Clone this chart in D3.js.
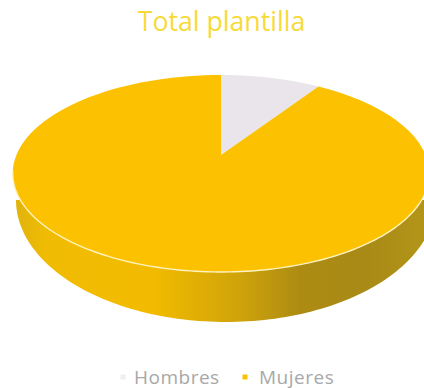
<!DOCTYPE html>
<html>
<head>
<meta charset="utf-8">
<script src="https://cdn.jsdelivr.net/npm/d3@7"></script>
<style>
  html, body { margin: 0; padding: 0; background: #fff; }
  svg { display: block; }
  text { font-family: "Open Sans", sans-serif; }
</style>
</head>
<body>
<div id="chart"></div>
<script>
// Workforce split shown as a tilted 3D pie
const title = "Total plantilla";
const categories = ["Hombres", "Mujeres"];
const values = [9.3, 90.7];
const colors = ["#e9e5ea", "#fcc100"];

const width = 424, height = 388;
const svg = d3.select("#chart").append("svg")
  .attr("width", width).attr("height", height);

// Perspective projection of the unit disc onto the page
const cx = 221, cy = 155;
const spanX = 204.6, spanY = 95, tilt = 0.188;
const project = angle => {
  const u = Math.sin(angle), v = Math.cos(angle);
  const w = 1 + tilt * v;
  return [cx + spanX * u / w, cy - spanY * v / w];
};

const defs = svg.append("defs");
const sideGrad = defs.append("linearGradient")
  .attr("id", "side-shade")
  .attr("gradientUnits", "userSpaceOnUse")
  .attr("x1", 14).attr("x2", 424).attr("y1", 0).attr("y2", 0);
[[0, "#e0b30c"], [0.08, "#f0bc03"], [0.34, "#f2bb00"], [0.55, "#cfa30a"],
 [0.70, "#ad8b13"], [0.86, "#a88a16"], [1, "#b29518"]]
  .forEach(([o, c]) => sideGrad.append("stop").attr("offset", o).attr("stop-color", c));

const line = d3.line();
const sweep = (a0, a1) =>
  d3.range(0, 121).map(i => project(a0 + (a1 - a0) * i / 120));

// Rim of the disc: lower half of the base ellipse, hidden above by the top face
const baseCx = 226, baseCy = 200, baseRx = 210, baseRy = 122;
const rim = d3.range(0, 121).map(i => {
  const a = Math.PI * i / 120;
  return [baseCx + baseRx * Math.cos(a), baseCy + baseRy * Math.sin(a)];
});
svg.append("path")
  .attr("d", line(rim) + "Z")
  .attr("fill", "url(#side-shade)");

// Top face slices
const pie = d3.pie().sort(null)(values);
svg.append("g").selectAll("path")
  .data(pie)
  .join("path")
  .attr("d", d => line([[cx, cy], ...sweep(d.startAngle, d.endAngle)]) + "Z")
  .attr("fill", (d, i) => colors[i]);

// Pale highlight along the front edge
svg.append("path")
  .attr("d", line(sweep(Math.PI * 0.6, Math.PI * 1.45)))
  .attr("fill", "none")
  .attr("stroke", "#fff3c0")
  .attr("stroke-width", 1.4);

svg.append("text")
  .attr("x", 221.5).attr("y", 31)
  .attr("text-anchor", "middle")
  .attr("font-size", 26.7)
  .attr("fill", "#f7da3a")
  .text(title);

// Legend
const legendMarkX = [123, 245];
const legendMarkFill = ["#f0eef0", colors[1]];
const legendTextX = [134, 259];
const legend = svg.append("g").selectAll("g")
  .data(categories)
  .join("g");
legend.append("rect")
  .attr("x", (d, i) => legendMarkX[i] - 2.5)
  .attr("y", 374.5)
  .attr("width", 5).attr("height", 5)
  .attr("fill", (d, i) => legendMarkFill[i]);
legend.append("text")
  .attr("x", (d, i) => legendTextX[i])
  .attr("y", 383.5)
  .attr("font-size", 19)
  .attr("letter-spacing", 0.5)
  .attr("fill", "#a8a8a8")
  .text(d => d);
</script>
</body>
</html>
